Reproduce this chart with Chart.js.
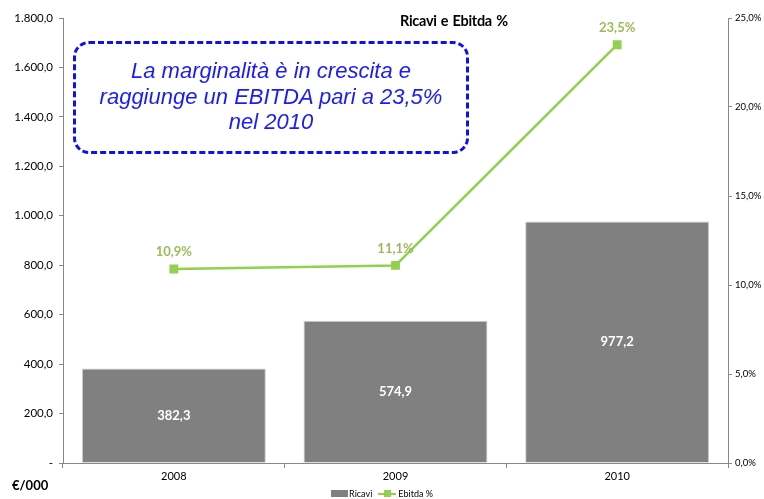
<!DOCTYPE html>
<html>
<head>
<meta charset="utf-8">
<script src="https://cdn.jsdelivr.net/npm/chart.js@4"></script>
<style>
  body { margin: 0; background: #fff; }
  #wrap { position: relative; width: 764px; height: 499px; }
  #title { position: absolute; left: 400px; top: 12px; font: bold 14.5px Lato, "Liberation Sans", sans-serif; letter-spacing: -0.3px; word-spacing: 1px; color: #000; }
  #note {
    position: absolute; left: 73px; top: 41px; width: 396px; height: 113px;
    border: 3px dashed #1010ee; border-radius: 16px; box-sizing: border-box;
    font: italic 22px "Liberation Sans", Arial, sans-serif; color: #1a1aff;
    text-align: center; line-height: 25.5px; padding-top: 14px;
  }
  #unit { position: absolute; left: 12px; top: 477px; font: bold 13px Lato, sans-serif; color: #000; }
  #legenda { position: absolute; left: 0; width: 764px; top: 487px; text-align: center; font: 9px Lato, sans-serif; color: #000; }
  #legenda span { display: inline-block; vertical-align: middle; }
  .box { width: 17px; height: 7px; background: #808080; margin-right: 1px; }
  .lin { position: relative; width: 18px; height: 2px; background: #92D050; margin: 0 2px 0 6px; }
  .lin i { position: absolute; left: 6px; top: -3px; width: 7px; height: 7px; background: #92D050; }
</style>
</head>
<body>
<div id="wrap">
  <canvas id="myChart" width="764" height="499"></canvas>
  <div id="title">Ricavi e Ebitda %</div>
  <div id="note">La marginalità è in crescita e<br>raggiunge un EBITDA pari a 23,5%<br>nel 2010</div>
  <div id="unit">€/000</div>
  <div id="legenda"><span class="box"></span><span>Ricavi</span><span class="lin"><i></i></span><span>Ebitda %</span></div>
</div>
<script>
// dati
const anni = ["2008", "2009", "2010"];
const ricavi = [382.3, 574.9, 977.2];
const ebitdaPerc = [10.9, 11.1, 23.5];

function fmt(v, dec) {
    const parts = v.toFixed(dec).split(".");
    parts[0] = parts[0].replace(/\B(?=(\d{3})+(?!\d))/g, ".");
    return parts.join(",");
}

const axisColor = "#888888";

// etichette sulle barre e sui punti
const etichette = {
    id: "etichette",
    afterDatasetsDraw(chart) {
        const ctx = chart.ctx;
        ctx.save();
        ctx.textAlign = "center";
        ctx.textBaseline = "middle";
        ctx.font = "bold 13px Lato, sans-serif";
        chart.getDatasetMeta(0).data.forEach((bar, i) => {
            ctx.fillStyle = "#ffffff";
            ctx.fillText(fmt(ricavi[i], 1), bar.x, (bar.y + bar.base) / 2);
        });
        chart.getDatasetMeta(1).data.forEach((pt, i) => {
            ctx.fillStyle = "#9BBB59";
            ctx.fillText(fmt(ebitdaPerc[i], 1) + "%", pt.x, pt.y - 17);
        });
        ctx.restore();
    }
};

new Chart(document.getElementById("myChart"), {
    data: {
        labels: anni,
        datasets: [{
            type: "bar",
            label: "Ricavi",
            data: ricavi,
            backgroundColor: "#808080",
            borderColor: "#d0d0d0",
            borderWidth: 1,
            categoryPercentage: 0.83,
            barPercentage: 1,
            yAxisID: "y",
            order: 2
        }, {
            type: "line",
            label: "Ebitda %",
            data: ebitdaPerc,
            borderColor: "#92D050",
            backgroundColor: "#92D050",
            borderWidth: 2.5,
            pointStyle: "rect",
            pointRadius: 4.5,
            pointBackgroundColor: "#92D050",
            pointBorderColor: "#92D050",
            tension: 0,
            yAxisID: "y1",
            order: 1
        }]
    },
    options: {
        responsive: false,
        animation: false,
        layout: { padding: { top: 18, left: 0, right: 0, bottom: 0 } },
        plugins: {
            legend: { display: false },
            tooltip: { enabled: false }
        },
        scales: {
            x: {
                grid: { drawOnChartArea: false, color: axisColor, tickLength: 5, offset: true },
                border: { color: axisColor },
                ticks: { color: "#000", font: { family: "Lato, sans-serif", size: 11 }, padding: 2 },
                afterFit(s) { s.height = 36; }
            },
            y: {
                position: "left",
                min: 0, max: 1800,
                grid: { drawOnChartArea: false, color: axisColor, tickLength: 4 },
                border: { color: axisColor },
                ticks: {
                    stepSize: 200,
                    color: "#000",
                    font: { family: "Lato, sans-serif", size: 11.5 },
                    padding: 6,
                    callback: v => v === 0 ? "-" : fmt(v, 1)
                },
                afterFit(s) { s.width = 63; }
            },
            y1: {
                position: "right",
                min: 0, max: 25,
                grid: { drawOnChartArea: false, color: axisColor, tickLength: 4 },
                border: { color: axisColor },
                ticks: {
                    stepSize: 5,
                    color: "#000",
                    font: { family: "Lato, sans-serif", size: 9.5 },
                    padding: 3,
                    callback: v => fmt(v, 1) + "%"
                },
                afterFit(s) { s.width = 36; }
            }
        }
    },
    plugins: [etichette]
});
</script>
</body>
</html>
